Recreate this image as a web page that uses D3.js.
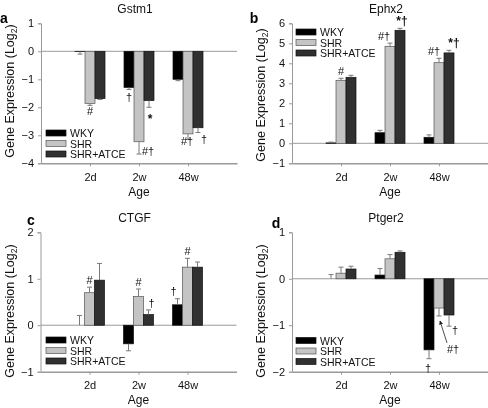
<!DOCTYPE html>
<html><head><meta charset="utf-8">
<script src="https://cdn.jsdelivr.net/npm/d3@7"></script>
<style>body{margin:0;background:#fff}svg{display:block;will-change:transform;opacity:0.999}text{font-family:"Liberation Sans",Arial,sans-serif}</style>
</head><body><svg id="c" width="488" height="408"></svg>
<script>
// ---------- DATA ----------
const ages = ["2d", "2w", "48w"];
const seriesNames = ["WKY", "SHR", "SHR+ATCE"];
const seriesColors = ["#000000", "#c4c4c4", "#303030"];

const genes = ["Gstm1", "Ephx2", "CTGF", "Ptger2"];
const panelLetters = ["a", "b", "c", "d"];

const gstm1Ticks = [1, 0, -1, -2, -3, -4];
const ephx2Ticks = [6, 5, 4, 3, 2, 1, 0, -1];
const ctgfTicks = [2, 1, 0, -1];
const ptger2Ticks = [1, 0, -1, -2];

// values [series][age]
const gstm1Values = [[-0.01, -1.29, -1.0], [-1.86, -3.23, -2.95], [-1.69, -1.76, -2.73]];
const gstm1Errors = [[0.09, 0.07, 0.05], [0.07, 0.44, 0.19], [0.03, 0.24, 0.17]];
const ephx2Values = [[0.02, 0.53, 0.30], [3.15, 4.85, 4.03], [3.30, 5.65, 4.52]];
const ephx2Errors = [[0.04, 0.12, 0.12], [0.10, 0.16, 0.22], [0.10, 0.10, 0.13]];
const ctgfValues = [[0.0, -0.40, 0.44], [0.70, 0.62, 1.25], [0.97, 0.23, 1.25]];
const ctgfErrors = [[0.21, 0.15, 0.13], [0.12, 0.16, 0.19], [0.36, 0.10, 0.11]];
const ptger2Values = [[0.0, 0.08, -1.53], [0.12, 0.43, -0.63], [0.21, 0.57, -0.78]];
const ptger2Errors = [[0.09, 0.14, 0.19], [0.13, 0.09, 0.17], [0.06, 0.03, 0.24]];

// significance marks: [ageIndex, seriesIndex, text]
const gstm1Marks = [[0, 1, "#"], [1, 0, "†"], [1, 1, "#†"], [1, 2, "*"], [2, 1, "#†"], [2, 2, "†"]];
const ephx2Marks = [[0, 1, "#"], [1, 1, "#†"], [1, 2, "*†"], [2, 1, "#†"], [2, 2, "*†"]];
const ctgfMarks = [[0, 1, "#"], [1, 1, "#"], [1, 2, "†"], [2, 0, "†"], [2, 1, "#"]];
const ptger2Marks = [[2, 0, "†"], [2, 2, "†"], [2, 1, "#†"]];

// ---------- LAYOUT (styles/positions) ----------
const layouts = [
  {x0: 41, top: 23.3, bottom: 163.3, domain: [-4, 1], ticks: gstm1Ticks, values: gstm1Values, errors: gstm1Errors, marks: gstm1Marks,
   letterX: 4, letterDy: -0.5, legendX: 46, legendY: 133, wkyDir: -1, labelY: 91,
   markPos: [[0, 10], [0, 12], [9, 1], [1, 16], [-1, 6], [6, 10]]},
  {x0: 292, top: 23.3, bottom: 163.3, domain: [-1, 6], ticks: ephx2Ticks, values: ephx2Values, errors: ephx2Errors, marks: ephx2Marks,
   letterX: 254, letterDy: -0.5, legendX: 296, legendY: 32, wkyDir: 1, labelY: 95,
   markPos: [[0, -3], [-6, -3], [2, -3], [-5, -3], [5, -3]]},
  {x0: 40.5, top: 232.3, bottom: 371.7, domain: [-1, 2], ticks: ctgfTicks, values: ctgfValues, errors: ctgfErrors, marks: ctgfMarks,
   letterX: 31, letterDy: -7.5, legendX: 46, legendY: 340, wkyDir: 1, labelY: 311,
   markPos: [[0, -3], [0, -3], [3, -3], [-4, -4], [0, -3]]},
  {x0: 292, top: 232.3, bottom: 371.7, domain: [-2, 1], ticks: ptger2Ticks, values: ptger2Values, errors: ptger2Errors, marks: ptger2Marks,
   letterX: 276, letterDy: -4, legendX: 296, legendY: 340.5, wkyDir: 1, labelY: 311,
   markPos: [[-1, 13], [6, 8], null]}
];
const plotW = 196;

const svg = d3.select("#c");
const axisColor = "#9a9a9a";

layouts.forEach((L, p) => {
  const g = svg.append("g");
  const x = d3.scaleLinear().domain([0, 4]).range([L.x0, L.x0 + plotW]);
  const y = d3.scaleLinear().domain(L.domain).range([L.bottom, L.top]);
  const sub = d3.scaleBand().domain(seriesNames).range([-15, 15]).padding(0);
  const cx = (a) => x(a + 1);

  // y axis
  const yAxis = d3.axisLeft(y).tickValues(L.ticks).tickSize(3).tickPadding(4).tickFormat(d3.format("d"));
  const ya = g.append("g").attr("transform", `translate(${L.x0},0)`).call(yAxis);
  ya.select(".domain").attr("stroke", axisColor);
  ya.selectAll(".tick line").attr("stroke", axisColor);
  ya.selectAll(".tick text").attr("font-size", 11).attr("fill", "#111").attr("font-family", '"Liberation Sans",Arial,sans-serif');

  // x axis
  const xAxis = d3.axisBottom(x).tickValues([1, 2, 3]).tickSize(3).tickSizeOuter(0).tickPadding(7).tickFormat((d) => ages[d - 1]);
  const xa = g.append("g").attr("transform", `translate(0,${L.bottom})`).call(xAxis);
  xa.select(".domain").attr("stroke", axisColor).attr("stroke-width", 1.5);
  xa.selectAll(".tick line").attr("stroke", axisColor);
  xa.selectAll(".tick text").attr("font-size", 11).attr("fill", "#111").attr("font-family", '"Liberation Sans",Arial,sans-serif');

  // zero line
  g.append("line").attr("x1", L.x0).attr("x2", L.x0 + plotW).attr("y1", y(0)).attr("y2", y(0))
    .attr("stroke", axisColor).attr("stroke-width", 1);

  // bars
  seriesNames.forEach((s, si) => {
    ages.forEach((a, ai) => {
      const v = L.values[si][ai];
      const e = L.errors[si][ai];
      const bx = cx(ai) + sub(s);
      const y0 = y(0), y1 = y(v);
      g.append("rect").attr("x", bx).attr("width", sub.bandwidth())
        .attr("y", Math.min(y0, y1)).attr("height", Math.abs(y1 - y0))
        .attr("fill", seriesColors[si]).attr("stroke", si === 1 ? "#555" : "#111").attr("stroke-width", 0.7);
      let dir = v > 0 ? 1 : (v < 0 ? -1 : (si === 0 ? L.wkyDir : 1));
      const ye = y(v + dir * e);
      const mx = bx + sub.bandwidth() / 2;
      g.append("line").attr("x1", mx).attr("x2", mx).attr("y1", y1).attr("y2", ye).attr("stroke", "#7a7a7a").attr("stroke-width", 1);
      g.append("line").attr("x1", mx - 2.5).attr("x2", mx + 2.5).attr("y1", ye).attr("y2", ye).attr("stroke", "#7a7a7a").attr("stroke-width", 1);
    });
  });

  // marks
  L.marks.forEach((m, mi) => {
    const [ai, si, t] = m;
    const v = L.values[si][ai], e = L.errors[si][ai];
    const dir = v >= 0 ? 1 : -1;
    const ye = y(v + dir * e);
    const mx = cx(ai) + sub(seriesNames[si]) + sub.bandwidth() / 2;
    const pos = L.markPos[mi];
    if (pos) {
      g.append("text").attr("x", mx + pos[0]).attr("y", ye + pos[1]).attr("text-anchor", "middle")
        .attr("font-size", t.indexOf("*") >= 0 ? 12 : 11).attr("font-weight", t.indexOf("*") >= 0 ? "bold" : "normal")
        .attr("fill", "#111").text(t);
    } else {
      // arrow label pointing to the error cap
      const tx = mx + 14, ty = ye + 37;
      g.append("text").attr("x", tx).attr("y", ty).attr("text-anchor", "middle").attr("font-size", 11).attr("fill", "#111").text(t);
      g.append("line").attr("x1", tx - 6).attr("y1", ty - 10).attr("x2", mx + 1).attr("y2", ye + 5)
        .attr("stroke", "#222").attr("stroke-width", 0.8).attr("marker-end", "url(#arr)");
    }
  });

  // title
  g.append("text").attr("x", L.x0 + plotW / 2 - 4).attr("y", L.top - 10).attr("text-anchor", "middle")
    .attr("font-size", 12).attr("fill", "#111").text(genes[p]);
  // panel letter
  g.append("text").attr("x", L.letterX).attr("y", L.top + L.letterDy).attr("text-anchor", "middle")
    .attr("font-size", 14).attr("font-weight", "bold").attr("fill", "#000").text(panelLetters[p]);
  // y label
  const yl = g.append("text").attr("transform", `translate(${L.x0 - 27},${L.labelY}) rotate(-90)`)
    .attr("text-anchor", "middle").attr("font-size", 12.5).attr("fill", "#111");
  yl.append("tspan").text("Gene Expression (Log");
  yl.append("tspan").attr("font-size", 8.5).attr("dy", 3).text("2");
  yl.append("tspan").attr("dy", -3).text(")");
  // x label
  g.append("text").attr("x", x(2)).attr("y", L.bottom + 32.5).attr("text-anchor", "middle")
    .attr("font-size", 12).attr("fill", "#111").text("Age");

  // legend
  seriesNames.forEach((s, si) => {
    const ly = L.legendY + si * 10.5;
    g.append("rect").attr("x", L.legendX).attr("y", ly - 3).attr("width", 20).attr("height", 6)
      .attr("fill", seriesColors[si]).attr("stroke", si === 1 ? "#555" : "#111").attr("stroke-width", 0.7);
    g.append("text").attr("x", L.legendX + 24).attr("y", ly + 4).attr("font-size", 10.5).attr("fill", "#111").text(s);
  });
});

// arrow marker
svg.append("defs").append("marker").attr("id", "arr").attr("viewBox", "0 0 10 10").attr("refX", 9).attr("refY", 5)
  .attr("markerWidth", 5).attr("markerHeight", 5).attr("orient", "auto")
  .append("path").attr("d", "M0,0 L10,5 L0,10 z").attr("fill", "#222");
</script></body></html>
